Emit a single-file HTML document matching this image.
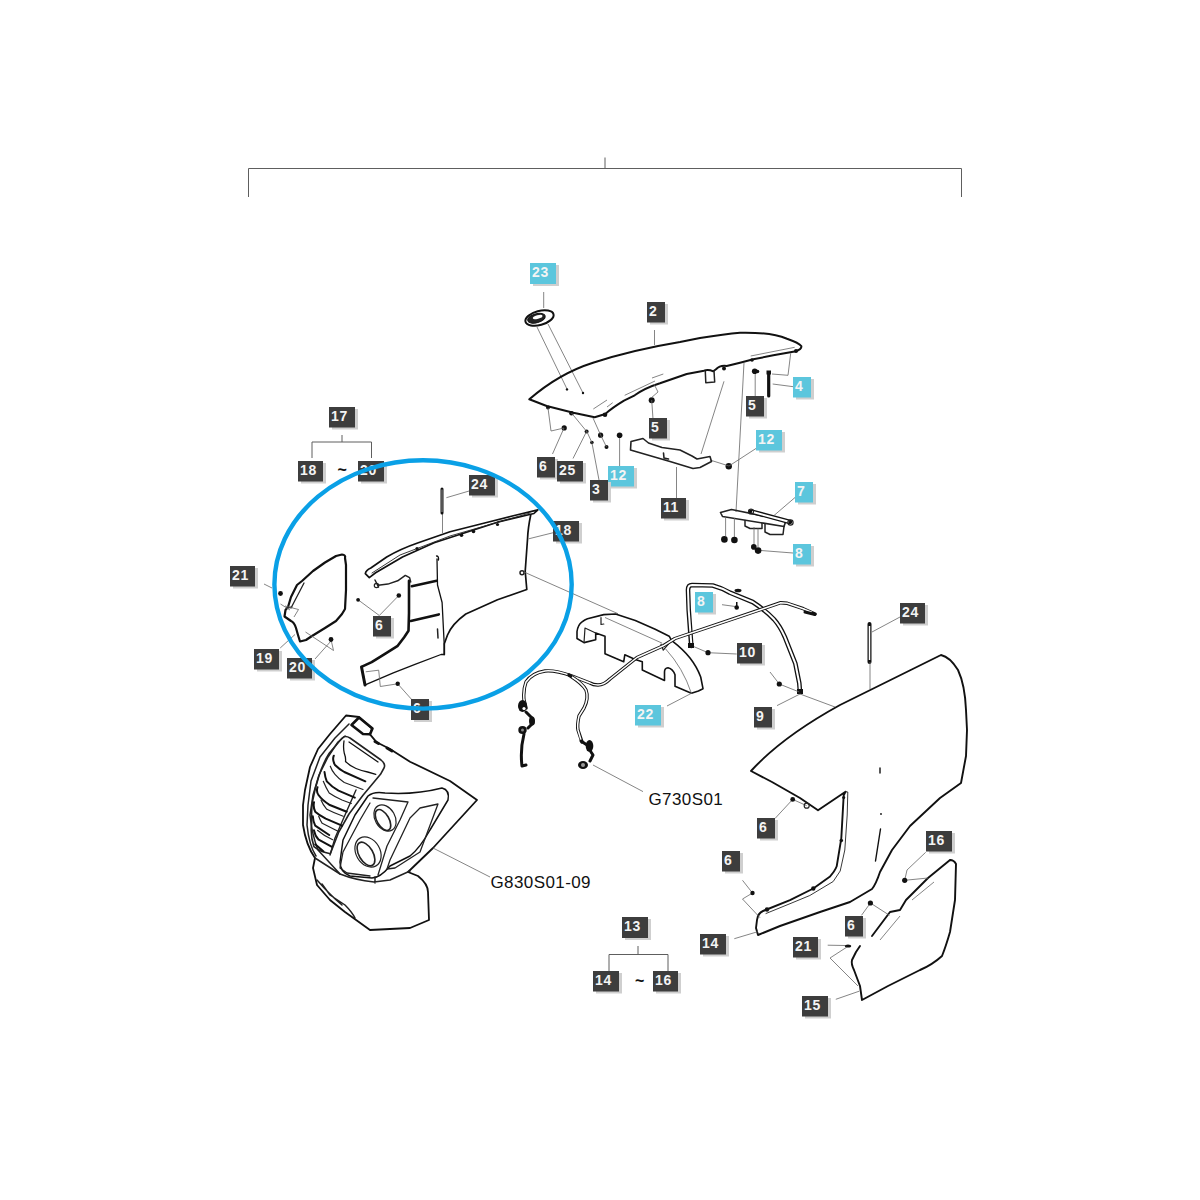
<!DOCTYPE html>
<html><head><meta charset="utf-8"><style>
html,body{margin:0;padding:0;background:#fff;width:1200px;height:1200px;overflow:hidden}
svg{display:block}
.lt{font-family:"Liberation Sans",sans-serif;font-weight:bold;font-size:14px;fill:#f4f4f4;letter-spacing:0.6px;}
.big{font-family:"Liberation Sans",sans-serif;font-size:17px;letter-spacing:0.4px;fill:#111}
.k{fill:none;stroke:#111;stroke-width:2;stroke-linejoin:round;stroke-linecap:round}
.k1{fill:none;stroke:#222;stroke-width:1.2;stroke-linejoin:round;stroke-linecap:round}
.t{fill:none;stroke:#666;stroke-width:0.8}
.g{fill:none;stroke:#5e5e5e;stroke-width:1}
.d{fill:#111}
</style></head><body>
<svg width="1200" height="1200" viewBox="0 0 1200 1200">
<!-- top bracket -->
<path class="g" d="M248.5,197 V168.5 H961.5 V197 M605,157.5 V168.5"/>
<!-- 17 bracket -->
<path class="g" d="M312,458 V442 H371.5 V458 M342,435 V442"/>
<!-- 13 bracket -->
<path class="g" d="M609,971 V954.5 H668 V971 M638,946 V954.5"/>
<text x="337.5" y="475" class="big" style="font-size:16px;font-weight:bold">~</text>
<text x="635" y="985.5" class="big" style="font-size:16px;font-weight:bold">~</text>
<text x="490.5" y="887.5" class="big">G830S01-09</text>
<text x="648.5" y="804.8" class="big">G730S01</text>

<!-- part 23 ring -->
<g transform="rotate(-15 539.5 318)">
<ellipse cx="539.5" cy="318" rx="14.5" ry="7" fill="#fff" class="k"/>
<ellipse cx="536.5" cy="317.5" rx="9" ry="4.5" fill="#222" stroke="#111" stroke-width="1"/>
<ellipse cx="538" cy="316.5" rx="5" ry="1.8" fill="#fff"/>
</g>
<path class="t" d="M543.7,292 V308 M537,327 L567,389 M548,324 L583,393"/>
<circle cx="567" cy="389.4" r="1.2" class="d"/><circle cx="583" cy="393" r="1.2" class="d"/>

<!-- part 2 hood -->
<path class="k" d="M529.3,399.3 C548,383 570,370 593,362.7 C620,354 650,347 680,342 L700,338 Q725,334 740,332.7 Q770,332 787,338.7 Q799,343 801.3,346 Q802,349 796,351.3 L773.3,355.3 L753.3,359.3 L740,362.7 L726.7,366 Q720,365 716,369.3 L713.3,371.3 Q708,369 704,370.7 L686.7,374 L660,383.3 Q645,388 634.7,395.3 L624,400.7 Q612,408 605.3,414 L594.7,417.3 L573.3,412.7 L546.7,406 Z"/>
<path class="k1" style="stroke-width:1.5" d="M705.3,371.3 L705.8,382.7 L714.7,382 L714,371"/>
<path class="t" d="M654.5,330 V345 M624.7,395.3 L655,381 M652,378 L663.3,374 M593.3,409 L607,400 M607,407 L612.7,402.7 M750.7,356 L794.7,347.3"/>
<circle cx="752" cy="360" r="1.8" class="d"/><circle cx="796" cy="351" r="2" class="d"/><circle cx="724" cy="368.5" r="2" class="d"/>
<!-- hood small parts -->
<circle cx="548" cy="407.5" r="2" class="d"/><circle cx="571.5" cy="413.3" r="2.3" class="d"/><circle cx="605" cy="414.8" r="2.3" class="d"/>
<circle cx="564.2" cy="427.9" r="2.6" class="d"/>
<circle cx="586.6" cy="431.4" r="2" class="d"/>
<circle cx="591.9" cy="442.5" r="1.8" class="d"/><circle cx="600.6" cy="435.2" r="2.6" class="d"/><circle cx="606.5" cy="446.9" r="2" class="d"/>
<circle cx="619.6" cy="435.2" r="2.8" class="d"/>
<circle cx="651.7" cy="400.2" r="3" class="d"/>
<circle cx="754.7" cy="371.3" r="2.8" class="d"/><circle cx="757.5" cy="371.5" r="1.8" class="d"/>
<circle cx="728.75" cy="466.25" r="3.2" class="d"/>
<path class="t" d="M548,408 L551,431 L564,428 L552.5,454 M571.5,413 L586.6,431.4 L573,458.5 M593,418 L600.6,435 L606.5,447 M586.6,431 L591.9,442.5 L599,480 M619.6,438 V466 M651.7,400 L653,419 M654,384 L658,392 L651,398 M755.2,374 V396 M724,381.3 L701,454 M744,362.7 L736,512 M710,460 L729,466 L756.7,448 M790.7,353.3 L788,375.3 L772,374 M772.7,384 L793.3,386.7 M676.5,467 V498"/>
<path class="k" d="M768.7,372.5 V396" style="stroke-width:3.2"/><rect x="766.5" y="370.5" width="4.5" height="4" class="d"/>
<!-- part 11 -->
<path class="k1" style="stroke-width:1.6" d="M631,441.5 L643,438.5 L648.5,443 L662,447.5 L680,450 L692,456 L697,459 L710,456.5 L711.5,461.5 L700,467.5 L693,468.5 L670,461.5 L630.5,450 Z M663.5,453 L664,458 L668.5,459"/>
<!-- part 7 bracket -->
<path class="k1" style="stroke-width:1.6" d="M720.5,512.5 L731.5,509.5 L786,520.5 L784,526.5 L722.5,516.5 Z"/>
<path class="k1" style="stroke-width:1.5" d="M745,520.5 L745,526 L750,528.5 L762,528.5 L762,523 M765,524 L765,532 L770,534.5 L783,534.5 L784,526.5"/>
<path class="k" style="stroke-width:4.6" d="M751,511.5 L790,522"/>
<path style="fill:none;stroke:#fff;stroke-width:2" d="M752,511.8 L789,521.7"/>
<circle cx="751" cy="511.5" r="2.5" class="k1" fill="#fff"/><circle cx="790.5" cy="522.5" r="2.6" fill="#fff" class="k1"/>
<path class="t" d="M725.6,517 V536 M734.4,518 V537 M754,527 V544 M758,528.5 V547 M761,550.5 L793,553 M774,515.5 L795,497.5"/>
<circle cx="724.4" cy="539.4" r="3.3" class="d"/><circle cx="734.4" cy="540" r="3.3" class="d"/><circle cx="753.8" cy="546.9" r="2.8" class="d"/><circle cx="758.1" cy="550.6" r="3.3" class="d"/>
<!-- part 18 panel -->
<path class="k" style="stroke-width:1.7" d="M365.3,573.6 Q366,570 370.8,568 L386.7,557 Q400,549 418.3,542.7 L450,531.7 L481.7,523.7 L513.3,515.8 L537.9,509.8 L533.9,513.5 L497.5,522.2 L465.8,532.5 L434.2,542.7 L402.5,557 L375.6,572.8 L369.3,577.6 Z"/>
<path class="k1" style="stroke-width:0.9" d="M372,573 L400,555 L450,536 L530,513"/>
<circle cx="417" cy="548.5" r="1.6" class="d"/><circle cx="461.5" cy="535.3" r="1.8" class="d"/><circle cx="473.5" cy="531.5" r="1.8" class="d"/><circle cx="497.5" cy="524.5" r="1.6" class="d"/>
<path class="k" style="stroke-width:1.7" d="M530.7,515 Q528,528 527.6,538 L525.2,571.2 L526.8,589.5 L497.5,599.7 L465.8,614 Q452,624 447.5,635 L444.3,643.7 L444.3,654.5"/>
<path class="k" style="stroke-width:1.3" d="M436.5,556 Q439,556 438.5,560 M437,559 L437.5,585 L442.1,602.5 L444.3,645.8 L444.3,654.5 L441,654.5 L415,664.3 L393.3,672.9 L365.2,684.8 L361.9,667.5"/>
<path class="k" style="stroke-width:3" d="M361.5,667 L365,685"/>
<path class="k" style="stroke-width:2.6" d="M362.5,666.4 L371.7,662.1 L385.8,653.4 L397.7,645.8 L404.2,637.2 L408.5,630.7 L409,613.3 L409,580.8"/>
<path class="k1" style="stroke-width:1.5" d="M378.2,585.2 L387.9,584.1 L397.7,580.8 L405.3,575.4 L409.6,577.6 L410.7,581.9 M375,580 L378.5,587"/>
<circle cx="376.5" cy="585.5" r="2.2" class="k1"/>
<path class="k" style="stroke-width:2.6" d="M411.8,586.3 L436.7,580.8 M410.7,620.9 L438.8,614.4"/>
<path class="k1" style="stroke-width:1.5" d="M437.5,629 L438,638"/>
<circle cx="522" cy="572.8" r="2" class="k1" style="stroke-width:1.5"/>
<path class="k" style="stroke-width:2.2" d="M342,554.5 Q346,555 345,558 L346,565 L346,590 L345,609 L342,614 L336,621 L325,628 L312,636 L306,640 L300,641.5 L298,635 L296,628 Q294,622 291,621 L284.5,616.5 L285.5,610 L288,607 L291,597 L297,585 L302,581 L313,571 L325,562.5 L336,556 Z"/>
<path class="k1" style="stroke-width:1.3" d="M291,608 L304,583 M287,608 L292,607"/>
<path class="t" d="M285,606 L298.5,609.5 L294,617 M305.5,632 L333.5,650.5 L331,639.5 M331,641 L315,659"/>
<path class="t" d="M264,584 L272,588 M280.5,604 L290,610 M280.2,648 L295,634.5 M358.1,599.8 L379.3,615.5 L398.8,595.5 M365.7,671.8 L378.7,670.2 L380.3,686.5 L397.7,683.8 M413,701 L397.7,683.8 M446.4,497.7 L470.2,490.7 M528.7,538.8 L554,532.5 M524,572 L618,613.7 M442.5,513 V533"/>
<path class="k" d="M442,489 V513" style="stroke-width:3"/><path style="fill:none;stroke:#999;stroke-width:1" d="M442,489.5 V512"/>
<circle cx="280.5" cy="593.5" r="2.4" class="d"/><circle cx="331" cy="639.5" r="2.4" class="d"/>
<circle cx="358.1" cy="599.8" r="1.9" class="d"/><circle cx="398.8" cy="595.5" r="2.3" class="d"/><circle cx="397.7" cy="683.8" r="2.2" class="d"/>


<!-- part 22 cover -->
<path class="k" style="stroke-width:1.6" d="M577,638.5 L577,631.5 Q578,625 581.7,622.2 Q585,619.5 587.5,618.7 L603.8,614.6 L615.5,614 L635.3,620.4 L655.2,629.2 L669.2,636.2 L671.5,640.3 Q684,650 690,658 Q697,667 700.7,677 L703,688.7 L698.4,691 L691.4,693.3 L675,686.3 L675,674.7 Q673,669 668,667.7 Q664.5,668 664.5,672 L664.5,680.5 L642.3,670 L642.3,661.8 L635.3,659.5 L624.8,654.8 L623.7,661.8 L605,653.7 L605,636.2 L595.7,633 L595.7,639.7 L584,642.6 Z"/>
<path class="k1" style="stroke-width:1.2" d="M585,628 L584,642.6 M585,628 L595.7,633 M601,617.5 L601,624.5 L603.8,624 M661,644.3 L663.3,650.2 L671.5,640.3"/>
<path class="t" d="M605,617.5 L662.2,643.2 M665.7,649 Q683,668 691.4,693.3 M692,693 L667,706"/>
<!-- part 9 arch -->
<path class="k" style="stroke-width:4.6" d="M691.3,646 L688.7,610 L688,590 Q688,585 692,585 L712.7,585.5 Q722,588 730,592.7 L752.7,602 Q765,610 774,619.3 Q780,626 784.7,636.7 L795.3,663.3 L799.3,683.3 L800,692"/>
<path style="fill:none;stroke:#fff;stroke-width:2;stroke-linejoin:round" d="M691.3,644 L688.7,610 L688,590 Q688,585 692,585 L712.7,585.5 Q722,588 730,592.7 L752.7,602 Q765,610 774,619.3 Q780,626 784.7,636.7 L795.3,663.3 L799.3,683.3 L799.8,690"/>
<rect x="688" y="643" width="6" height="5" class="d"/><rect x="797" y="689" width="6" height="5" class="d"/>
<ellipse cx="738" cy="590.5" rx="3.5" ry="1.8" class="d"/>
<!-- harness -->
<path class="k" style="stroke-width:3.4" d="M815,614 L803.3,608.7 L787.3,603.3 L780.7,602.7 L763.3,608.7 L675,638.5 L663.3,645.8 L637,657.5 L610,679 Q604,685 598,685 Q593,685 590,683 L572,676 Q555,670 545,671 Q532,673 526,682 Q523,690 524,700 L526,708"/>
<path style="fill:none;stroke:#fff;stroke-width:1.5;stroke-linejoin:round" d="M812,612.5 L803.3,608.7 L787.3,603.3 L780.7,602.7 L763.3,608.7 L675,638.5 L663.3,645.8 L637,657.5 L610,679 Q604,685 598,685 Q593,685 590,683 L572,676 Q555,670 545,671 Q532,673 526,682 Q523,690 524,700 L525.5,706"/>
<path class="k" style="stroke-width:3.4" d="M569,675 Q583,684 586,690 Q589,698 584,708 L579,716 Q577,725 578,730 L582,742"/>
<path style="fill:none;stroke:#fff;stroke-width:1.5;stroke-linejoin:round" d="M572,677 Q583,684 586,690 Q589,698 584,708 L579,716 Q577,725 578,730 L581,740"/>
<path class="k" style="stroke-width:3" d="M526,712 L532,718 L533,723 L528,728 M524,734 Q520,750 522,766 L526,765 M581,741 L587,745 M591,752 L593,755 L590,761"/>
<ellipse cx="522.5" cy="706" rx="4.5" ry="6" class="d"/><circle cx="524" cy="708.5" r="1.6" fill="#fff"/>
<ellipse cx="532" cy="721" rx="3" ry="4.5" class="d"/>
<ellipse cx="522.5" cy="730" rx="4.2" ry="4" class="d"/><circle cx="522.5" cy="730" r="1.5" fill="#888"/>
<ellipse cx="589.5" cy="746" rx="3.8" ry="6" class="d"/>
<ellipse cx="583" cy="765" rx="5" ry="4" class="d"/><circle cx="583" cy="765" r="2" fill="#999"/>
<path class="t" d="M593,765 L643,791.6 M722,604.7 L736.7,606.7 M694,646.7 L708,652.7 L736.7,654 M770,672 L779.3,684 L799.3,692 M777,705.6 L800,694 L835,707"/>
<circle cx="736.7" cy="607.5" r="2.3" class="d"/><rect x="736" y="602" width="1.5" height="4" class="d"/><circle cx="708" cy="652.7" r="2.6" class="d"/><circle cx="779.3" cy="684" r="2.6" class="d"/><path class="k" style="stroke-width:3" d="M805,612 L815,614.5"/>

<!-- part 14 fender -->
<path class="k" style="stroke-width:1.9" d="M751,771 C772,748 800,727 840,705 L941,655 Q950,657 958,670 Q965,685 966,710 L967,730 L966,756 L961,783 L940,798 L910,826 L892,850 L880,872 Q876,884 872,889 L850,902 L820,912 L780,926 L758,935 L756,928 L757,920 Q758,913 763,911 L790,900.2 L813.3,888.5 L829.7,876.8 Q835,871 836.7,866.3 L841.3,838.3 L843.7,795.2 L845.5,791.7 L818,810.3 L800,798 L772,782 Z"/>
<path class="k1" style="stroke-width:0.9" d="M845.5,791.7 L847.8,792 L847.2,815 L844.8,850 L840.2,871 L833.2,881.5 L809.8,895.5 L790,903.7 L766,913.5"/>
<circle cx="843.7" cy="797.5" r="1.5" class="d"/><circle cx="841.3" cy="840.5" r="1.8" class="d"/><circle cx="813.3" cy="888.5" r="2.2" class="d"/><circle cx="767" cy="909.5" r="2.2" class="d"/>
<path class="k" style="stroke-width:4" d="M869.5,624 V662"/>
<path style="fill:none;stroke:#fff;stroke-width:1.5" d="M869.5,626 V660"/>
<path class="t" d="M870,662 V689 M872,632 L900,617 M792.7,799.4 L806.7,805.7 M775,818.5 L792.7,799.4 M742.5,880.3 L752.5,893 M742.5,899 L760,917.7 M752.5,893 L742.5,899 M734.3,938.7 L757.7,931.7"/>
<circle cx="792.7" cy="799.4" r="2.4" class="d"/><circle cx="806.7" cy="805.7" r="2.5" class="k1"/><circle cx="752.5" cy="893" r="2.2" class="d"/>
<path class="k" style="stroke-width:1.4" d="M880,768 V773 M880.5,829 L875.5,861"/><circle cx="881" cy="814" r="0.9" class="d"/>
<!-- part 15 -->
<path class="k" style="stroke-width:1.9" d="M950,860 Q954,860 956,864 L955,900 L950,932 Q946,946 942,956 Q932,965 920,970 L888,986 L862,1000 L860,986 L854,970 Q851,964 852,960 L856,952 L860,946 M872,936 L890,912 L900,910 L906,900 L928,878 L950,860"/>
<ellipse cx="848" cy="946" rx="3.2" ry="1.6" class="d"/>
<path class="t" d="M907,870 L904.7,880.3 L928,878 M925.7,852.3 L907,870 M870.4,903 L889.5,915.3 M861.5,915.3 L870.4,903 M827.7,945.2 L845,945.5 M830,958 L847,947 M830,958 L858,986 M835.8,999.3 L859.2,991.2 M912,900 L934,882 M880,940 L900,916"/>
<circle cx="904.7" cy="880.3" r="2.6" class="d"/><circle cx="870.4" cy="903" r="2.6" class="d"/>

<!-- grille -->
<path class="k" style="stroke-width:1.8" d="M346,715.5 L359,717 L372,728.5 L370,734.3 L376.7,742.3 L390,749 L410,761.7 L450,781 L477,800 L433,848 L408,872 L418,876 Q428,884 428,892 L429,920 L410,928 L370,930 L345,912 L330,900 L317,885 L313,868 L315,858 Q306,845 303,825 L303,805 L305,790 L310,767 L318,749 L330,734 Z"/>
<path class="k" style="stroke-width:2.6" d="M351.5,725 L359,717.5 L372.5,728.5 L370,734.3 L363,734 Z"/><path class="k" style="stroke-width:3" d="M375,741.5 L378.5,743.5 M387,748 L392,751"/>
<path class="k1" style="stroke-width:1.5" d="M349,724 L335,738 L320,757 L311,781 L308,805 L307,825 Q309,845 316,856 M345,736 L338,742 L328,757 L319,775 L313,795 L310,815 Q312,835 318,850 L340,874"/>
<path class="k1" style="stroke-width:1.6" d="M342,738.2 Q345,735 350,738 L381,760 Q386,764 384,768 L380.5,774.3 L363,795.3 L349,814 L338.5,832.7 L330.3,853.7 Q320,852 314,846.7 Q310,835 311.7,823.3 Q311,810 312.8,800 Q315,788 318.7,776.7 Q323,763 329.2,753.3 Z"/>
<path class="k1" style="stroke-width:1.4" d="M356,790 L345,815 L335,838 L330,855"/>
<path class="k" style="stroke-width:1.3" d="M344,741 Q343,748 344.3,753.3 Q346,758 345.5,761.5 Q350,766 356,768.5 Q362,771 367.7,772 L375.8,774.3 M349,742 L378,762"/>
<path class="k" style="stroke-width:2" d="M333.8,755.7 Q332,760 335,765 Q339,769 344.3,772 L365.3,781.3 M324.5,772 Q325,777 326.8,781.3 Q332,787 338.5,790.7 L354.8,797.7 M317.5,787.2 Q316,792 318.7,795.3 Q322,800 329.2,804.7 L346.7,811.7 M314,802.3 Q313,807 315.2,811.7 Q319,815 325.7,818.7 L342,825.7 M312.8,816.3 Q313,821 315.2,825.7 L329.2,835 M314,830.3 Q315,836 318.7,839.7 L331.5,846.7 M315.2,844.3 L323.3,851.3"/>
<path class="k1" style="stroke-width:1.2" d="M330.3,766.2 Q332,771 335,774.3 Q339,779 344.3,782.5 L363,789.5 M323.3,781.3 Q326,788 329.2,793 Q335,797 342,800 L351.3,803.5 M321,800 Q323,805 326.8,809.3 Q334,813 343.2,816.3 M318.7,816.3 Q320,820 322.2,823.3 L338.5,831.5 M317.5,830.3 Q324,836 332.7,839.7"/>
<path class="k" style="stroke-width:1.5" d="M368,796 Q374,791 385,793 Q415,795 442,788 Q450,790 448,800 L430,830 Q420,848 410,856 L390,866 Q380,878 372,878 L350,876 Q340,872 340,862 L343,840 L355,815 Z"/>
<path class="k1" style="stroke-width:1.3" d="M373,798 L408,802 L400,820 L387,846 L378,875 M370,803 L360,820 L343,852 L340,868 L347,873 L370,876 M420,808 L410,818 L390,860 L387,869 L395,868 L420,852 L438,804 Z"/>
<ellipse cx="383" cy="820" rx="6" ry="11.5" transform="rotate(-30 383 820)" class="k1" style="stroke-width:1.6"/>
<ellipse cx="385" cy="818" rx="10" ry="14" transform="rotate(-30 385 818)" class="k1"/>
<ellipse cx="366" cy="854" rx="7" ry="13" transform="rotate(-30 366 854)" class="k1" style="stroke-width:1.6"/>
<ellipse cx="368" cy="852" rx="12" ry="16" transform="rotate(-30 368 852)" class="k1"/>
<path class="k1" style="stroke-width:1.5" d="M315,858 L340,874 Q355,880 374,882 L390,880 L410,871 M375,877 L375,883 M322,884 L330,895 L345,905 Q352,912 355,918 M317,880 Q330,895 342,905"/>
<path class="t" d="M433,848 L490,877"/>

<rect x="533" y="265" width="26" height="21" fill="#cfcfcf"/>
<rect x="530" y="263" width="26" height="21" fill="#5cc6dd"/>
<text x="532" y="277" class="lt">23</text>
<rect x="650" y="304" width="18" height="20.5" fill="#cfcfcf"/>
<rect x="647" y="302" width="18" height="20.5" fill="#3d3d3d"/>
<text x="649" y="316" class="lt">2</text>
<rect x="796" y="379" width="18" height="20.5" fill="#cfcfcf"/>
<rect x="793" y="377" width="18" height="20.5" fill="#5cc6dd"/>
<text x="795" y="391" class="lt">4</text>
<rect x="749" y="398" width="18" height="20.5" fill="#cfcfcf"/>
<rect x="746" y="396" width="18" height="20.5" fill="#3d3d3d"/>
<text x="748" y="410" class="lt">5</text>
<rect x="652" y="420" width="18" height="20.5" fill="#cfcfcf"/>
<rect x="649" y="418" width="18" height="20.5" fill="#3d3d3d"/>
<text x="651" y="432" class="lt">5</text>
<rect x="759" y="432" width="26" height="20.5" fill="#cfcfcf"/>
<rect x="756" y="430" width="26" height="20.5" fill="#5cc6dd"/>
<text x="758" y="444" class="lt">12</text>
<rect x="540" y="459" width="18" height="20.5" fill="#cfcfcf"/>
<rect x="537" y="457" width="18" height="20.5" fill="#3d3d3d"/>
<text x="539" y="471" class="lt">6</text>
<rect x="560" y="463" width="26" height="20.5" fill="#cfcfcf"/>
<rect x="557" y="461" width="26" height="20.5" fill="#3d3d3d"/>
<text x="559" y="475" class="lt">25</text>
<rect x="611" y="468" width="26" height="20.5" fill="#cfcfcf"/>
<rect x="608" y="466" width="26" height="20.5" fill="#5cc6dd"/>
<text x="610" y="480" class="lt">12</text>
<rect x="593" y="482" width="18" height="20.5" fill="#cfcfcf"/>
<rect x="590" y="480" width="18" height="20.5" fill="#3d3d3d"/>
<text x="592" y="494" class="lt">3</text>
<rect x="664" y="500" width="25" height="20.5" fill="#cfcfcf"/>
<rect x="661" y="498" width="25" height="20.5" fill="#3d3d3d"/>
<text x="663" y="512" class="lt">11</text>
<rect x="798" y="484" width="18" height="20.5" fill="#cfcfcf"/>
<rect x="795" y="482" width="18" height="20.5" fill="#5cc6dd"/>
<text x="797" y="496" class="lt">7</text>
<rect x="796" y="546" width="18" height="20.5" fill="#cfcfcf"/>
<rect x="793" y="544" width="18" height="20.5" fill="#5cc6dd"/>
<text x="795" y="558" class="lt">8</text>
<rect x="332" y="409" width="26" height="20.5" fill="#cfcfcf"/>
<rect x="329" y="407" width="26" height="20.5" fill="#3d3d3d"/>
<text x="331" y="421" class="lt">17</text>
<rect x="301" y="463" width="25" height="20.5" fill="#cfcfcf"/>
<rect x="298" y="461" width="25" height="20.5" fill="#3d3d3d"/>
<text x="300" y="475" class="lt">18</text>
<rect x="361" y="463" width="26" height="20.5" fill="#cfcfcf"/>
<rect x="358" y="461" width="26" height="20.5" fill="#3d3d3d"/>
<text x="360" y="475" class="lt">20</text>
<rect x="472" y="477" width="26" height="20.5" fill="#cfcfcf"/>
<rect x="469" y="475" width="26" height="20.5" fill="#3d3d3d"/>
<text x="471" y="489" class="lt">24</text>
<rect x="556" y="523" width="26" height="20.5" fill="#cfcfcf"/>
<rect x="553" y="521" width="26" height="20.5" fill="#3d3d3d"/>
<text x="555" y="535" class="lt">18</text>
<rect x="233" y="568" width="25" height="20.5" fill="#cfcfcf"/>
<rect x="230" y="566" width="25" height="20.5" fill="#3d3d3d"/>
<text x="232" y="580" class="lt">21</text>
<rect x="376" y="618" width="18" height="20.5" fill="#cfcfcf"/>
<rect x="373" y="616" width="18" height="20.5" fill="#3d3d3d"/>
<text x="375" y="630" class="lt">6</text>
<rect x="257" y="651" width="25" height="20.5" fill="#cfcfcf"/>
<rect x="254" y="649" width="25" height="20.5" fill="#3d3d3d"/>
<text x="256" y="663" class="lt">19</text>
<rect x="290" y="660" width="25" height="20.5" fill="#cfcfcf"/>
<rect x="287" y="658" width="25" height="20.5" fill="#3d3d3d"/>
<text x="289" y="672" class="lt">20</text>
<rect x="414" y="701" width="18" height="21" fill="#cfcfcf"/>
<rect x="411" y="699" width="18" height="21" fill="#3d3d3d"/>
<text x="413" y="713" class="lt">6</text>
<rect x="698" y="594" width="18" height="20.5" fill="#cfcfcf"/>
<rect x="695" y="592" width="18" height="20.5" fill="#5cc6dd"/>
<text x="697" y="606" class="lt">8</text>
<rect x="740" y="645" width="25" height="20.5" fill="#cfcfcf"/>
<rect x="737" y="643" width="25" height="20.5" fill="#3d3d3d"/>
<text x="739" y="657" class="lt">10</text>
<rect x="903" y="605" width="25" height="20.5" fill="#cfcfcf"/>
<rect x="900" y="603" width="25" height="20.5" fill="#3d3d3d"/>
<text x="902" y="617" class="lt">24</text>
<rect x="638" y="707" width="26" height="20.5" fill="#cfcfcf"/>
<rect x="635" y="705" width="26" height="20.5" fill="#5cc6dd"/>
<text x="637" y="719" class="lt">22</text>
<rect x="757" y="709" width="18" height="20.5" fill="#cfcfcf"/>
<rect x="754" y="707" width="18" height="20.5" fill="#3d3d3d"/>
<text x="756" y="721" class="lt">9</text>
<rect x="760" y="820" width="18" height="20.5" fill="#cfcfcf"/>
<rect x="757" y="818" width="18" height="20.5" fill="#3d3d3d"/>
<text x="759" y="832" class="lt">6</text>
<rect x="725" y="853" width="18" height="20.5" fill="#cfcfcf"/>
<rect x="722" y="851" width="18" height="20.5" fill="#3d3d3d"/>
<text x="724" y="865" class="lt">6</text>
<rect x="929" y="833" width="26" height="20.5" fill="#cfcfcf"/>
<rect x="926" y="831" width="26" height="20.5" fill="#3d3d3d"/>
<text x="928" y="845" class="lt">16</text>
<rect x="848" y="918" width="18" height="20.5" fill="#cfcfcf"/>
<rect x="845" y="916" width="18" height="20.5" fill="#3d3d3d"/>
<text x="847" y="930" class="lt">6</text>
<rect x="703" y="936" width="26" height="20.5" fill="#cfcfcf"/>
<rect x="700" y="934" width="26" height="20.5" fill="#3d3d3d"/>
<text x="702" y="948" class="lt">14</text>
<rect x="796" y="939" width="25" height="20.5" fill="#cfcfcf"/>
<rect x="793" y="937" width="25" height="20.5" fill="#3d3d3d"/>
<text x="795" y="951" class="lt">21</text>
<rect x="805" y="998" width="26" height="20.5" fill="#cfcfcf"/>
<rect x="802" y="996" width="26" height="20.5" fill="#3d3d3d"/>
<text x="804" y="1010" class="lt">15</text>
<rect x="625" y="919" width="26" height="21" fill="#cfcfcf"/>
<rect x="622" y="917" width="26" height="21" fill="#3d3d3d"/>
<text x="624" y="931" class="lt">13</text>
<rect x="596" y="973" width="26" height="20.5" fill="#cfcfcf"/>
<rect x="593" y="971" width="26" height="20.5" fill="#3d3d3d"/>
<text x="595" y="985" class="lt">14</text>
<rect x="656" y="973" width="25" height="20.5" fill="#cfcfcf"/>
<rect x="653" y="971" width="25" height="20.5" fill="#3d3d3d"/>
<text x="655" y="985" class="lt">16</text>
<ellipse cx="423.05" cy="584.45" rx="148.65" ry="124.15" fill="none" stroke="#0aa0e6" stroke-width="4.4"/>
</svg>
</body></html>
